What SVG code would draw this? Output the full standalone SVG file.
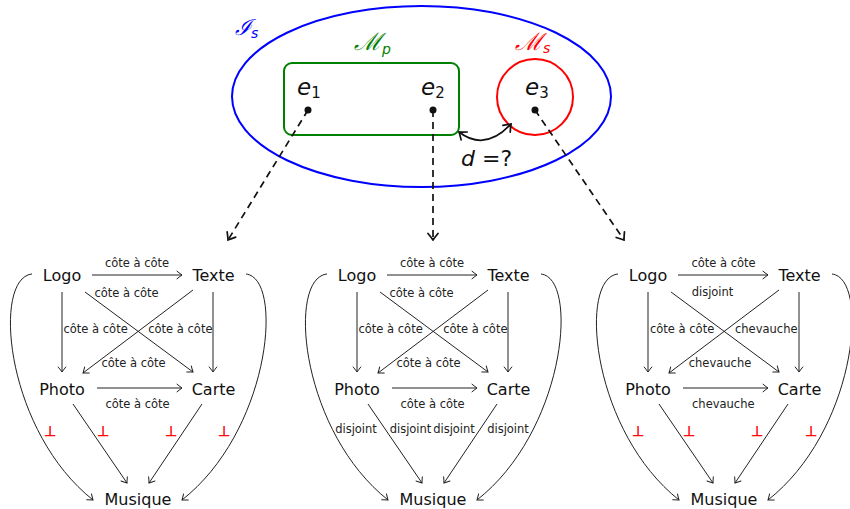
<svg xmlns="http://www.w3.org/2000/svg" width="850" height="509" viewBox="0 0 850 509">
<style>
.n{font-family:"DejaVu Sans",sans-serif;font-size:16px;text-anchor:middle;fill:#111}
.l{font-family:"DejaVu Sans",sans-serif;font-size:11.5px;fill:#222}
.m{text-anchor:middle}
.s{text-anchor:start}
.en{text-anchor:end}
.perp{font-family:"DejaVu Sans",sans-serif;font-size:14px;fill:#ff0000;stroke:#ff0000;stroke-width:0.5;text-anchor:middle}
.e{stroke:#222;stroke-width:1;fill:none;marker-end:url(#ah)}
.math{font-family:"DejaVu Sans",sans-serif}
.cal{font-family:"DejaVu Serif",serif;font-style:italic}
.sub{font-family:"DejaVu Sans",sans-serif;font-style:italic}
.dash{stroke:#111;stroke-width:1.7;fill:none;stroke-dasharray:7 5;marker-end:url(#ah2)}
</style>
<defs>
<marker id="ah" viewBox="-7 -5 8 10" refX="0" refY="0" markerWidth="8" markerHeight="10" markerUnits="userSpaceOnUse" orient="auto">
<path d="M-5,-3.8 Q-1.5,-1 0,0 Q-1.5,1 -5,3.8" fill="none" stroke="#222" stroke-width="1" stroke-linecap="round"/>
</marker>
<marker id="ah2" viewBox="-9 -7 10 14" refX="0" refY="0" markerWidth="10" markerHeight="14" markerUnits="userSpaceOnUse" orient="auto-start-reverse">
<path d="M-6.5,-5 Q-2,-1.3 0,0 Q-2,1.3 -6.5,5" fill="none" stroke="#111" stroke-width="1.7" stroke-linecap="round"/>
</marker>
</defs>

<!-- top part -->
<g id="Is">
<ellipse cx="421.5" cy="96.5" rx="189.5" ry="90.5" fill="none" stroke="#0000ff" stroke-width="2"/>
<text class="cal" x="235" y="35" font-size="22" fill="#0000ff">ℐ<tspan class="sub" font-size="14" dy="3">s</tspan></text>
</g>
<g id="Mp">
<rect x="284" y="63" width="175" height="72" rx="8" fill="none" stroke="#008000" stroke-width="2"/>
<text class="cal" x="354" y="50" font-size="24" fill="#008000">ℳ<tspan class="sub" font-size="14" dy="4">p</tspan></text>
</g>
<g id="Ms">
<circle cx="535" cy="97" r="38" fill="none" stroke="#ff0000" stroke-width="2"/>
<text class="cal" x="515" y="50" font-size="24" fill="#ff0000">ℳ<tspan class="sub" font-size="14" dy="3">s</tspan></text>
</g>
<g id="e1">
<text class="math" x="297" y="95" font-size="23" font-style="italic" fill="#111">e<tspan font-size="15" font-style="normal" dy="3">1</tspan></text>
<circle cx="308" cy="110" r="3.5" fill="#111"/>
</g>
<g id="e2">
<text class="math" x="421" y="95" font-size="23" font-style="italic" fill="#111">e<tspan font-size="15" font-style="normal" dy="3">2</tspan></text>
<circle cx="433" cy="110" r="3.5" fill="#111"/>
</g>
<g id="e3">
<text class="math" x="525" y="95" font-size="23" font-style="italic" fill="#111">e<tspan font-size="15" font-style="normal" dy="3">3</tspan></text>
<circle cx="535" cy="110" r="3.5" fill="#111"/>
</g>
<g id="top-connectors">
<path class="dash" d="M308,110 L228,240"/>
<path class="dash" d="M433,110 L433,240"/>
<path class="dash" d="M535,110 L624,240"/>
<path d="M459,132 Q485,152 511,124" fill="none" stroke="#111" stroke-width="1.8" marker-start="url(#ah2)" marker-end="url(#ah2)"/>
<text class="math" x="461" y="166" font-size="22" fill="#111"><tspan font-style="italic">d</tspan><tspan x="482">=?</tspan></text>
</g>

<!-- graph 1 -->
<g id="graph1">
<g id="g1-logo"><text class="n" x="62" y="281">Logo</text></g>
<g id="g1-texte"><text class="n" x="213.5" y="281">Texte</text></g>
<g id="g1-photo"><text class="n" x="62" y="395">Photo</text></g>
<g id="g1-carte"><text class="n" x="213.5" y="395">Carte</text></g>
<g id="g1-musique"><text class="n" x="138" y="505">Musique</text></g>
<g id="g1-connectors">
<path class="e" d="M92,275 H182"/>
<path class="e" d="M62,292 V372"/>
<path class="e" d="M213,292 V372"/>
<path class="e" d="M85,292 L193,372"/>
<path class="e" d="M193,290 L83,373"/>
<path class="e" d="M97,388 H182"/>
<path class="e" d="M73,404 L127,483"/>
<path class="e" d="M202,404 L149,483"/>
<path class="e" d="M32,274 C-8,278 5,430 93,500"/>
<path class="e" d="M246,274 C284,278 271,430 182,500"/>
<text class="l m" x="137" y="267">côte à côte</text>
<text class="l s" x="63.5" y="333">côte à côte</text>
<text class="l en" x="212.5" y="333">côte à côte</text>
<text class="l m" x="126.5" y="297">côte à côte</text>
<text class="l m" x="133.5" y="367">côte à côte</text>
<text class="l m" x="137.5" y="408">côte à côte</text>
<text class="perp" x="50" y="436">⊥</text>
<text class="perp" x="103" y="436">⊥</text>
<text class="perp" x="171" y="436">⊥</text>
<text class="perp" x="224" y="436">⊥</text>
</g>
</g>

<!-- graph 2 -->
<g id="graph2" transform="translate(295,0)">
<g id="g2-logo"><text class="n" x="62" y="281">Logo</text></g>
<g id="g2-texte"><text class="n" x="213.5" y="281">Texte</text></g>
<g id="g2-photo"><text class="n" x="62" y="395">Photo</text></g>
<g id="g2-carte"><text class="n" x="213.5" y="395">Carte</text></g>
<g id="g2-musique"><text class="n" x="138" y="505">Musique</text></g>
<g id="g2-connectors">
<path class="e" d="M92,275 H182"/>
<path class="e" d="M62,292 V372"/>
<path class="e" d="M213,292 V372"/>
<path class="e" d="M85,292 L193,372"/>
<path class="e" d="M193,290 L83,373"/>
<path class="e" d="M97,388 H182"/>
<path class="e" d="M73,404 L127,483"/>
<path class="e" d="M202,404 L149,483"/>
<path class="e" d="M32,274 C-8,278 5,430 93,500"/>
<path class="e" d="M246,274 C284,278 271,430 182,500"/>
<text class="l m" x="137" y="267">côte à côte</text>
<text class="l s" x="63.5" y="333">côte à côte</text>
<text class="l en" x="212.5" y="333">côte à côte</text>
<text class="l m" x="126.5" y="297">côte à côte</text>
<text class="l m" x="133.5" y="367">côte à côte</text>
<text class="l m" x="137.5" y="408">côte à côte</text>
<text class="l m" x="61" y="433">disjoint</text>
<text class="l m" x="115.5" y="433">disjoint</text>
<text class="l m" x="159" y="433">disjoint</text>
<text class="l m" x="213" y="433">disjoint</text>
</g>
</g>

<!-- graph 3 -->
<g id="graph3" transform="translate(586,0)">
<g id="g3-logo"><text class="n" x="62" y="281">Logo</text></g>
<g id="g3-texte"><text class="n" x="213.5" y="281">Texte</text></g>
<g id="g3-photo"><text class="n" x="62" y="395">Photo</text></g>
<g id="g3-carte"><text class="n" x="213.5" y="395">Carte</text></g>
<g id="g3-musique"><text class="n" x="138" y="505">Musique</text></g>
<g id="g3-connectors">
<path class="e" d="M92,275 H182"/>
<path class="e" d="M62,292 V372"/>
<path class="e" d="M213,292 V372"/>
<path class="e" d="M85,292 L193,372"/>
<path class="e" d="M193,290 L83,373"/>
<path class="e" d="M97,388 H182"/>
<path class="e" d="M73,404 L127,483"/>
<path class="e" d="M202,404 L149,483"/>
<path class="e" d="M32,274 C-8,278 5,430 93,500"/>
<path class="e" d="M246,274 C284,278 271,430 182,500"/>
<text class="l m" x="137.5" y="267">côte à côte</text>
<text class="l s" x="64" y="333">côte à côte</text>
<text class="l en" x="211.5" y="333">chevauche</text>
<text class="l m" x="126.5" y="296">disjoint</text>
<text class="l m" x="134" y="367">chevauche</text>
<text class="l m" x="137.3" y="408">chevauche</text>
<text class="perp" x="52" y="436">⊥</text>
<text class="perp" x="103" y="436">⊥</text>
<text class="perp" x="171" y="436">⊥</text>
<text class="perp" x="225" y="436">⊥</text>
</g>
</g>
</svg>
